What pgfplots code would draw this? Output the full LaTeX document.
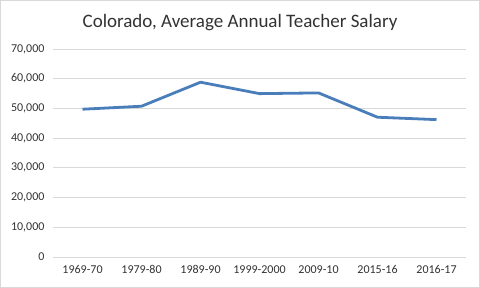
\documentclass[border=0pt]{standalone}
\usepackage{fontspec}
\setmainfont{Carlito}
\usepackage{pgfplots}
\pgfplotsset{compat=1.18}
\definecolor{gridc}{RGB}{217,217,217}
\definecolor{txt}{RGB}{50,50,50}
\definecolor{linec}{RGB}{74,126,187}
\begin{document}
\begin{tikzpicture}[x=1pt,y=1pt]
\draw[gridc, line width=1pt] (0.5,0.5) rectangle (479.5,287.5);
\node[text=txt, font=\fontsize{19}{22}\selectfont] at (240,265) {Colorado, Average Annual Teacher Salary};
\begin{axis}[at={(53pt,31pt)}, anchor=south west, scale only axis,
  width=413pt, height=208pt,
  xmin=-0.5, xmax=6.5, ymin=0, ymax=70000,
  axis line style={draw=none},
  major tick length=0pt,
  ymajorgrids, grid style={gridc, line width=0.8pt},
  xtick={0,...,6},
  xticklabels={1969-70,1979-80,1989-90,1999-2000,2009-10,2015-16,2016-17},
  ytick={0,10000,...,70000},
  scaled y ticks=false,
  /pgf/number format/1000 sep={,},
  /pgf/number format/assume math mode=true,
  tick label style={font=\fontsize{12}{14}\selectfont, text=txt},
  xticklabel style={yshift=-5pt},
  yticklabel style={xshift=-5pt},
  clip=false,
]
\addplot[linec, line width=2.8pt, line join=round, mark=none] coordinates {
(0,49730) (1,50740) (2,58820) (3,54980) (4,55220) (5,47040) (6,46230)
};
\end{axis}
\end{tikzpicture}
\end{document}
